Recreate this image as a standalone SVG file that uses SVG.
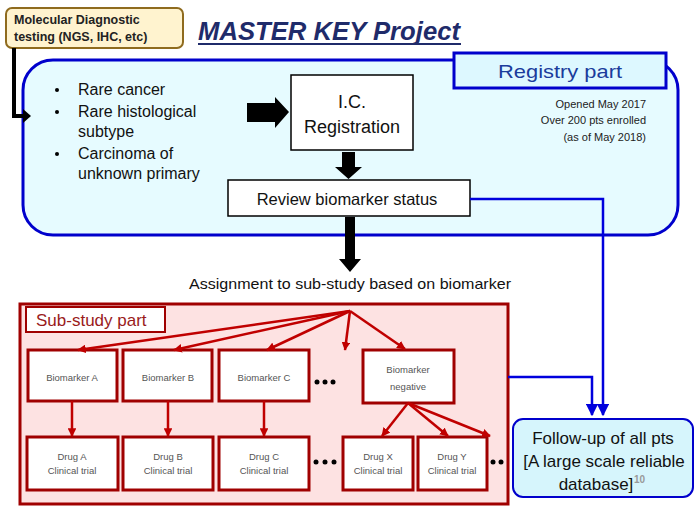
<svg xmlns="http://www.w3.org/2000/svg" width="700" height="512" viewBox="0 0 700 512">
<defs>
<marker id="ab" viewBox="0 0 10 10" refX="9" refY="5" markerWidth="5" markerHeight="5" markerUnits="strokeWidth" orient="auto"><path d="M0,0 L10,5 L0,10 z" fill="#0000DD"/></marker>
<marker id="ar" viewBox="0 0 10 10" refX="9" refY="5" markerWidth="3.5" markerHeight="3.5" markerUnits="strokeWidth" orient="auto"><path d="M0,0 L10,5 L0,10 z" fill="#C00000"/></marker>
</defs>
<style>
text{font-family:"Liberation Sans",Arial,sans-serif}
.bl{stroke:#0000DD;stroke-width:2.5;fill:none}
.rd{stroke:#C00000;stroke-width:2.5;fill:none}
.bx{fill:#fff;stroke:#A00000;stroke-width:3}
.wb{fill:#fff;stroke:#000;stroke-width:1.5}
.sm{font-size:9.5px;fill:#555;text-anchor:middle}
.mid{text-anchor:middle}
.dot{fill:#000}
</style>

<g id="registry">
<rect x="23" y="60" width="655" height="175" rx="30" fill="#E6FBFF" stroke="#0000CC" stroke-width="3"/>
</g>
<g id="registry-label">
<rect x="454" y="53" width="212" height="35" fill="#DDF8FF" stroke="#0000CC" stroke-width="3"/>
<text x="560" y="78" class="mid" font-size="19" fill="#1A3C9C" textLength="124" lengthAdjust="spacingAndGlyphs">Registry part</text>
</g>
<g id="registry-note" font-size="11" fill="#222" text-anchor="end">
<text x="646" y="108">Opened May 2017</text>
<text x="646" y="124">Over 200 pts enrolled</text>
<text x="646" y="141">(as of May 2018)</text>
</g>

<g id="title">
<text x="198" y="40" font-size="25" font-weight="bold" font-style="italic" fill="#1F2B6A" textLength="262" lengthAdjust="spacingAndGlyphs">MASTER KEY Project</text>
<line x1="198" y1="44" x2="461" y2="44" stroke="#1F2B6A" stroke-width="2"/>
</g>

<g id="molecular">
<rect x="6" y="8" width="177" height="40" rx="6" fill="#FFF3CF" stroke="#8F6B1E" stroke-width="2"/>
<text x="14" y="24" font-size="12.5" font-weight="bold" fill="#222">Molecular Diagnostic</text>
<text x="14" y="41" font-size="12.5" font-weight="bold" fill="#222">testing (NGS, IHC, etc)</text>
</g>

<g id="criteria" font-size="16" fill="#111">
<circle cx="57" cy="90" r="2" class="dot"/>
<text x="78" y="95">Rare cancer</text>
<circle cx="57" cy="112" r="2" class="dot"/>
<text x="78" y="117">Rare histological</text>
<text x="78" y="137">subtype</text>
<circle cx="57" cy="154" r="2" class="dot"/>
<text x="78" y="159">Carcinoma of</text>
<text x="78" y="179">unknown primary</text>
</g>

<g id="ic">
<rect x="291" y="75" width="122" height="75" class="wb"/>
<text x="352" y="108" class="mid" font-size="18" fill="#111">I.C.</text>
<text x="352" y="133" class="mid" font-size="18" fill="#111">Registration</text>
</g>

<g id="review">
<rect x="228" y="180" width="242" height="36" class="wb"/>
<text x="347" y="205" class="mid" font-size="16.5" fill="#111">Review biomarker status</text>
</g>

<g id="assign">
<text x="350" y="289" class="mid" font-size="15" fill="#111" textLength="322" lengthAdjust="spacingAndGlyphs">Assignment to sub-study based on biomarker</text>
</g>

<g id="substudy">
<rect x="20" y="304" width="488" height="200" fill="#FDE2E2" stroke="#A00000" stroke-width="3"/>
</g>
<g id="substudy-label">
<rect x="26" y="307" width="139" height="25" fill="#fff" stroke="#A00000" stroke-width="2"/>
<text x="36" y="326" font-size="17" fill="#9A1B1B">Sub-study part</text>
</g>

<g id="bmA"><rect x="28" y="350" width="89" height="51" class="bx"/><text x="72" y="381" class="sm">Biomarker A</text></g>
<g id="bmB"><rect x="123" y="350" width="89" height="51" class="bx"/><text x="168" y="381" class="sm">Biomarker B</text></g>
<g id="bmC"><rect x="219" y="350" width="90" height="51" class="bx"/><text x="264" y="381" class="sm">Biomarker C</text></g>
<g id="bmN"><rect x="363" y="350" width="91" height="53" class="bx"/><text x="408" y="373" class="sm">Biomarker</text><text x="408" y="390" class="sm">negative</text></g>

<g id="drA"><rect x="27" y="437" width="91" height="53" class="bx"/><text x="72" y="460" class="sm">Drug A</text><text x="72" y="474" class="sm">Clinical trial</text></g>
<g id="drB"><rect x="123" y="437" width="90" height="53" class="bx"/><text x="168" y="460" class="sm">Drug B</text><text x="168" y="474" class="sm">Clinical trial</text></g>
<g id="drC"><rect x="219" y="437" width="90" height="53" class="bx"/><text x="264" y="460" class="sm">Drug C</text><text x="264" y="474" class="sm">Clinical trial</text></g>
<g id="drX"><rect x="343" y="437" width="70" height="53" class="bx"/><text x="378" y="460" class="sm">Drug X</text><text x="378" y="474" class="sm">Clinical trial</text></g>
<g id="drY"><rect x="418" y="437" width="69" height="53" class="bx"/><text x="452" y="460" class="sm">Drug Y</text><text x="452" y="474" class="sm">Clinical trial</text></g>

<g id="dots">
<circle cx="317" cy="382" r="2.5" class="dot"/><circle cx="325" cy="382" r="2.5" class="dot"/><circle cx="333" cy="382" r="2.5" class="dot"/>
<circle cx="316" cy="462" r="2.5" class="dot"/><circle cx="325" cy="462" r="2.5" class="dot"/><circle cx="334" cy="462" r="2.5" class="dot"/>
<circle cx="493" cy="462" r="2.5" class="dot"/><circle cx="501" cy="462" r="2.5" class="dot"/>
</g>

<g id="followup">
<rect x="513" y="419" width="180" height="78" rx="10" fill="#D6F5FC" stroke="#0000CC" stroke-width="2"/>
<text x="603" y="444" class="mid" font-size="17" fill="#111">Follow-up of all pts</text>
<text x="604" y="467" class="mid" font-size="17" fill="#111">[A large scale reliable</text>
<text x="596" y="490" class="mid" font-size="17" fill="#111">database]</text>
<text x="634" y="483" font-size="10" font-weight="bold" fill="#999">10</text>
</g>

<g id="connectors">
<path d="M14,48 V116 H24" stroke="#000" stroke-width="4" fill="none"/>
<path d="M23,109 L31,116 L23,123 Z" fill="#000"/>
<path d="M247,103 H275 V97 L289,112 L275,128 V122 H247 Z" fill="#000"/>
<path d="M342,152 H355 V167 H362 L348.5,179 L335,167 H342 Z" fill="#000"/>
<path d="M345,217 H355 V259 H361 L350,272 L339,259 H345 Z" fill="#000"/>
<path d="M470,199 H603 V415" class="bl" marker-end="url(#ab)"/>
<path d="M508,377 H592 V415" class="bl" marker-end="url(#ab)"/>
<path d="M350,311 L78,350" class="rd" marker-end="url(#ar)"/>
<path d="M350,311 L174,350" class="rd" marker-end="url(#ar)"/>
<path d="M350,311 L267,350" class="rd" marker-end="url(#ar)"/>
<path d="M350,311 L345,350" class="rd" marker-end="url(#ar)"/>
<path d="M350,311 L405,349" class="rd" marker-end="url(#ar)"/>
<path d="M72,401 V436" class="rd" marker-end="url(#ar)"/>
<path d="M168,401 V436" class="rd" marker-end="url(#ar)"/>
<path d="M264,401 V436" class="rd" marker-end="url(#ar)"/>
<path d="M408,403 L382,436" class="rd" marker-end="url(#ar)"/>
<path d="M408,403 L448,436" class="rd" marker-end="url(#ar)"/>
<path d="M408,403 L490,436" class="rd" marker-end="url(#ar)"/>
</g>
</svg>
